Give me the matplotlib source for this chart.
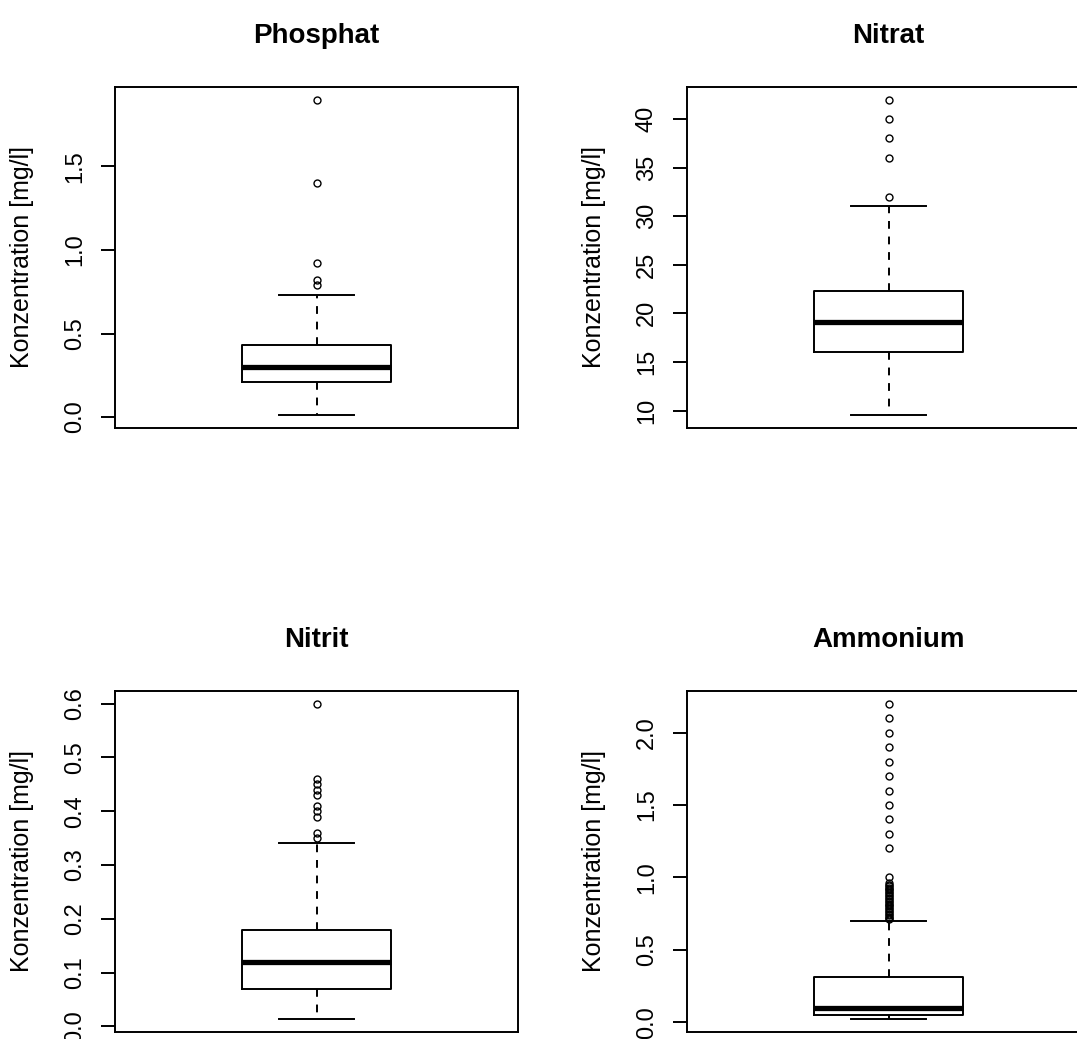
import matplotlib
matplotlib.use("Agg")
import matplotlib.pyplot as plt
from matplotlib.ticker import FormatStrFormatter

# values (R style)
titles = ["Phosphat", "Nitrat", "Nitrit", "Ammonium"]
ylabel = "Konzentration [mg/l]"

whis_lo = [0.01, 9.5, 0.013, 0.02]
q1 = [0.21, 16.0, 0.07, 0.05]
medians = [0.30, 19.1, 0.12, 0.10]
q3 = [0.43, 22.3, 0.18, 0.31]
whis_hi = [0.73, 31.0, 0.34, 0.70]

phosphat_out = [0.79, 0.82, 0.92, 1.4, 1.9]
nitrat_out = [32, 36, 38, 40, 42]
nitrit_out = [0.35, 0.36, 0.39, 0.40, 0.41, 0.43, 0.44, 0.45, 0.46, 0.60]
ammonium_out = [0.71, 0.72, 0.73, 0.74, 0.75, 0.76, 0.77, 0.78, 0.79, 0.80,
                0.81, 0.82, 0.83, 0.84, 0.85, 0.86, 0.87, 0.88, 0.89, 0.90,
                0.91, 0.92, 0.93, 0.94, 0.95, 0.96, 1.0,
                1.2, 1.3, 1.4, 1.5, 1.6, 1.7, 1.8, 1.9, 2.0, 2.1, 2.2]
outliers = [phosphat_out, nitrat_out, nitrit_out, ammonium_out]

yticks = [[0.0, 0.5, 1.0, 1.5],
          [10, 15, 20, 25, 30, 35, 40],
          [0.0, 0.1, 0.2, 0.3, 0.4, 0.5, 0.6],
          [0.0, 0.5, 1.0, 1.5, 2.0]]
tick_fmt = ["%.1f", "%d", "%.1f", "%.1f"]

W, H = 1077, 1039
fig = plt.figure(figsize=(W / 100, H / 100), dpi=100)
fig.patch.set_facecolor("white")

# axes boxes in pixels (left, top), all 403 x 341
corners = [(115, 87), (687, 87), (115, 691), (687, 691)]
aw, ah = 403, 341

tick_font = ["Liberation Sans Narrow", "Liberation Sans", "DejaVu Sans"]
lw = 1.4

for i in range(4):
    x0, y0 = corners[i]
    ax = fig.add_axes([x0 / W, 1 - (y0 + ah) / H, aw / W, ah / H])

    stats = [{
        "whislo": whis_lo[i], "q1": q1[i], "med": medians[i],
        "q3": q3[i], "whishi": whis_hi[i], "fliers": outliers[i],
    }]
    ax.bxp(stats, positions=[1], widths=0.4, capwidths=0.2,
           boxprops=dict(color="black", linewidth=lw),
           medianprops=dict(color="black", linewidth=3.8, solid_capstyle="butt"),
           whiskerprops=dict(color="black", linewidth=lw, linestyle=(0, (4, 4))),
           capprops=dict(color="black", linewidth=lw),
           flierprops=dict(marker="o", markerfacecolor="none", markeredgecolor="black",
                           markersize=5, markeredgewidth=1.0, linestyle="none"))

    # R style limits: data range plus 4 %
    lo = whis_lo[i]
    hi = max(outliers[i])
    pad = 0.04 * (hi - lo)
    ax.set_ylim(lo - pad, hi + pad)
    ax.set_xlim(0.46, 1.54)

    ax.set_xticks([])
    ax.set_yticks(yticks[i])
    ax.yaxis.set_major_formatter(FormatStrFormatter(tick_fmt[i]))
    ax.tick_params(axis="y", direction="out", length=10, width=lw, pad=11,
                   labelsize=17, colors="black")
    for lab in ax.get_yticklabels():
        lab.set_rotation(90)
        lab.set_va("center")
        lab.set_family(tick_font)

    for sp in ax.spines.values():
        sp.set_linewidth(lw)
        sp.set_color("black")

    ax.set_title(titles[i], fontsize=20, fontweight="bold",
                 family=["Liberation Sans", "DejaVu Sans"], pad=32)
    ax.set_ylabel(ylabel, fontsize=18, family=["Liberation Sans", "DejaVu Sans"])
    ax.yaxis.set_label_coords(-0.2, 0.5)

fig.savefig("out.png", dpi=100, facecolor="white")
